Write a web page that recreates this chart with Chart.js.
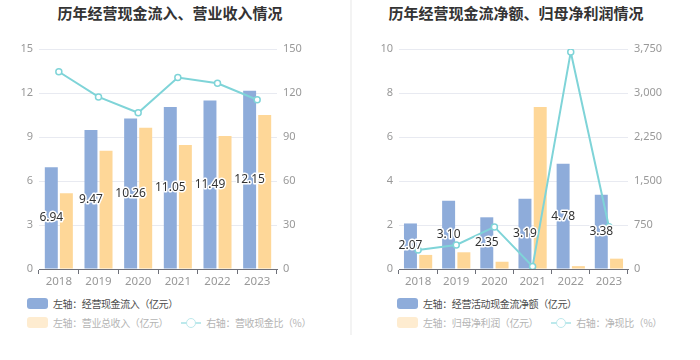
<!DOCTYPE html>
<html>
<head>
<meta charset="utf-8">
<script src="https://cdn.jsdelivr.net/npm/chart.js@4.4.1/dist/chart.umd.min.js"></script>
<style>
  body { margin: 0; background: #fff; font-family: "Noto Sans CJK SC", "Noto Sans", sans-serif; }
  .page { position: relative; width: 700px; height: 360px; overflow: hidden; }
  .panel { position: absolute; top: 0; width: 350px; height: 360px; }
  .title { position: absolute; top: 2px; font-size: 15px; font-weight: bold; color: #333; white-space: nowrap; transform: translateX(-50%); }
  .box { position: absolute; top: 0; left: 0; width: 350px; height: 290px; }
  .divider { position: absolute; left: 350px; top: 0; width: 2px; height: 335px; background: #f3f3f3; }
  .legend { position: absolute; top: 294px; font-size: 10px; letter-spacing: -0.4px; }
  .row { display: flex; align-items: center; height: 19px; white-space: nowrap; }
  .item { display: flex; align-items: center; margin-right: 13px; }
  .swatch { width: 21px; height: 11px; border-radius: 3px; margin-right: 5px; }
  .icon { position: relative; width: 20px; height: 11px; margin-right: 5px; }
  .icon .ln { position: absolute; left: 0; top: 5px; width: 20px; height: 2px; }
  .icon .pt { position: absolute; left: 5px; top: 1px; width: 8px; height: 8px; border-radius: 50%; background: #fff; border: 1.5px solid; }
</style>
</head>
<body>
<div class="page">
  <div class="panel" style="left:0">
    <div class="title" style="left:170px">历年经营现金流入、营业收入情况</div>
    <div class="box"><canvas id="c1" width="350" height="290"></canvas></div>
    <div class="legend" id="l1" style="left:27px"></div>
  </div>
  <div class="divider"></div>
  <div class="panel" style="left:350px">
    <div class="title" style="left:166px">历年经营现金流净额、归母净利润情况</div>
    <div class="box"><canvas id="c2" width="350" height="290"></canvas></div>
    <div class="legend" id="l2" style="left:47px"></div>
  </div>
</div>
<script>
const years = ["2018", "2019", "2020", "2021", "2022", "2023"]

// left chart
const cashInflow = [6.94, 9.47, 10.26, 11.05, 11.49, 12.15]
const revenue = [5.16, 8.07, 9.63, 8.45, 9.07, 10.50]
const cashRevenueRatio = [134.5, 117.3, 106.5, 130.6, 126.6, 115.4]

// right chart
const netCashFlow = [2.07, 3.10, 2.35, 3.19, 4.78, 3.38]
const netProfit = [0.64, 0.76, 0.33, 7.36, 0.13, 0.47]
const cashProfitRatio = [324, 409, 718, 43, 3700, 720]

const BLUE = "#8eacda"
const ORANGE = "#fed798"
const TEAL = "#7fd4d8"
const FONT = "'Noto Sans', 'Noto Sans CJK SC', sans-serif"

const barLabels = {
  id: "barLabels",
  afterDatasetsDraw(chart) {
    const ctx = chart.ctx
    const meta = chart.getDatasetMeta(0)
    const values = chart.data.datasets[0].data
    ctx.save()
    ctx.font = "12px " + FONT
    ctx.textAlign = "center"
    ctx.textBaseline = "middle"
    ctx.lineWidth = 3
    ctx.lineJoin = "round"
    ctx.strokeStyle = "#fff"
    ctx.fillStyle = "#333"
    meta.data.forEach((bar, i) => {
      const text = values[i].toFixed(2)
      const y = (bar.y + bar.base) / 2
      ctx.strokeText(text, bar.x, y)
      ctx.fillText(text, bar.x, y)
    })
    ctx.restore()
  }
}

function makeChart(id, cfg) {
  const tickFont = { family: FONT, size: 11 }
  return new Chart(document.getElementById(id), {
    type: "bar",
    data: {
      labels: years,
      datasets: [
        { label: cfg.labels[0], data: cfg.bars1, backgroundColor: BLUE, yAxisID: "y", order: 1,
          categoryPercentage: cfg.cat, barPercentage: cfg.bar },
        { label: cfg.labels[1], data: cfg.bars2, backgroundColor: ORANGE, yAxisID: "y", order: 1,
          categoryPercentage: cfg.cat, barPercentage: cfg.bar },
        { type: "line", label: cfg.labels[2], data: cfg.line, yAxisID: "y1", order: 0,
          borderColor: TEAL, borderWidth: 2, tension: 0,
          pointRadius: 3, pointBorderWidth: 1.5, pointBackgroundColor: "#fff", pointBorderColor: TEAL }
      ]
    },
    options: {
      responsive: false,
      animation: false,
      layout: { padding: { top: 49, left: 0, right: 0, bottom: 0 } },
      plugins: { legend: { display: false }, tooltip: { enabled: false } },
      scales: {
        x: {
          grid: { display: true, drawOnChartArea: false, drawTicks: true, tickLength: 5, color: "#6e7079" },
          border: { color: "#6e7079" },
          ticks: { color: "#999", font: { family: FONT, size: 11.5 }, padding: 1 },
          afterFit(s) { s.height = 21 }
        },
        y: {
          position: "left",
          min: 0, max: cfg.leftMax,
          ticks: { stepSize: cfg.leftStep, color: "#999", font: tickFont, padding: 6 },
          grid: { color: "#e8eaf1", drawTicks: false },
          border: { display: false },
          afterFit(s) { s.width = cfg.leftW }
        },
        y1: {
          position: "right",
          min: 0, max: cfg.rightMax,
          ticks: { stepSize: cfg.rightStep, color: "#999", font: tickFont, padding: 6,
            callback: v => v.toString().replace(/\B(?=(\d{3})+(?!\d))/g, ",") },
          grid: { drawOnChartArea: false, drawTicks: false },
          border: { display: false },
          afterFit(s) { s.width = cfg.rightW }
        }
      }
    },
    plugins: [barLabels]
  })
}

function buildLegend(el, chart) {
  const ds = chart.data.datasets
  const item = (d, faded) => {
    const color = faded ? "#b4b4b4" : "#4d4d4d"
    if (d.type === "line") {
      return `<div class="item"><div class="icon"><div class="ln" style="background:#bde9ec"></div>` +
        `<div class="pt" style="border-color:#bde9ec"></div></div>` +
        `<span style="color:${color}">${d.label}</span></div>`
    }
    const bg = faded ? "#feecd0" : d.backgroundColor
    return `<div class="item"><div class="swatch" style="background:${bg}"></div>` +
      `<span style="color:${color}">${d.label}</span></div>`
  }
  el.innerHTML = `<div class="row">${item(ds[0], false)}</div>` +
    `<div class="row">${item(ds[1], true)}${item(ds[2], true)}</div>`
}

const chart1 = makeChart("c1", {
  labels: ["左轴：经营现金流入（亿元）", "左轴：营业总收入（亿元）", "右轴：营收现金比（%）"],
  bars1: cashInflow, bars2: revenue, line: cashRevenueRatio,
  leftMax: 15, leftStep: 3, rightMax: 150, rightStep: 30,
  leftW: 39, rightW: 73, cat: 0.76, bar: 0.86
})
const chart2 = makeChart("c2", {
  labels: ["左轴：经营活动现金流净额（亿元）", "左轴：归母净利润（亿元）", "右轴：净现比（%）"],
  bars1: netCashFlow, bars2: netProfit, line: cashProfitRatio,
  leftMax: 10, leftStep: 2, rightMax: 3750, rightStep: 750,
  leftW: 49, rightW: 72, cat: 0.8, bar: 0.85
})

buildLegend(document.getElementById("l1"), chart1)
buildLegend(document.getElementById("l2"), chart2)
</script>
</body>
</html>
